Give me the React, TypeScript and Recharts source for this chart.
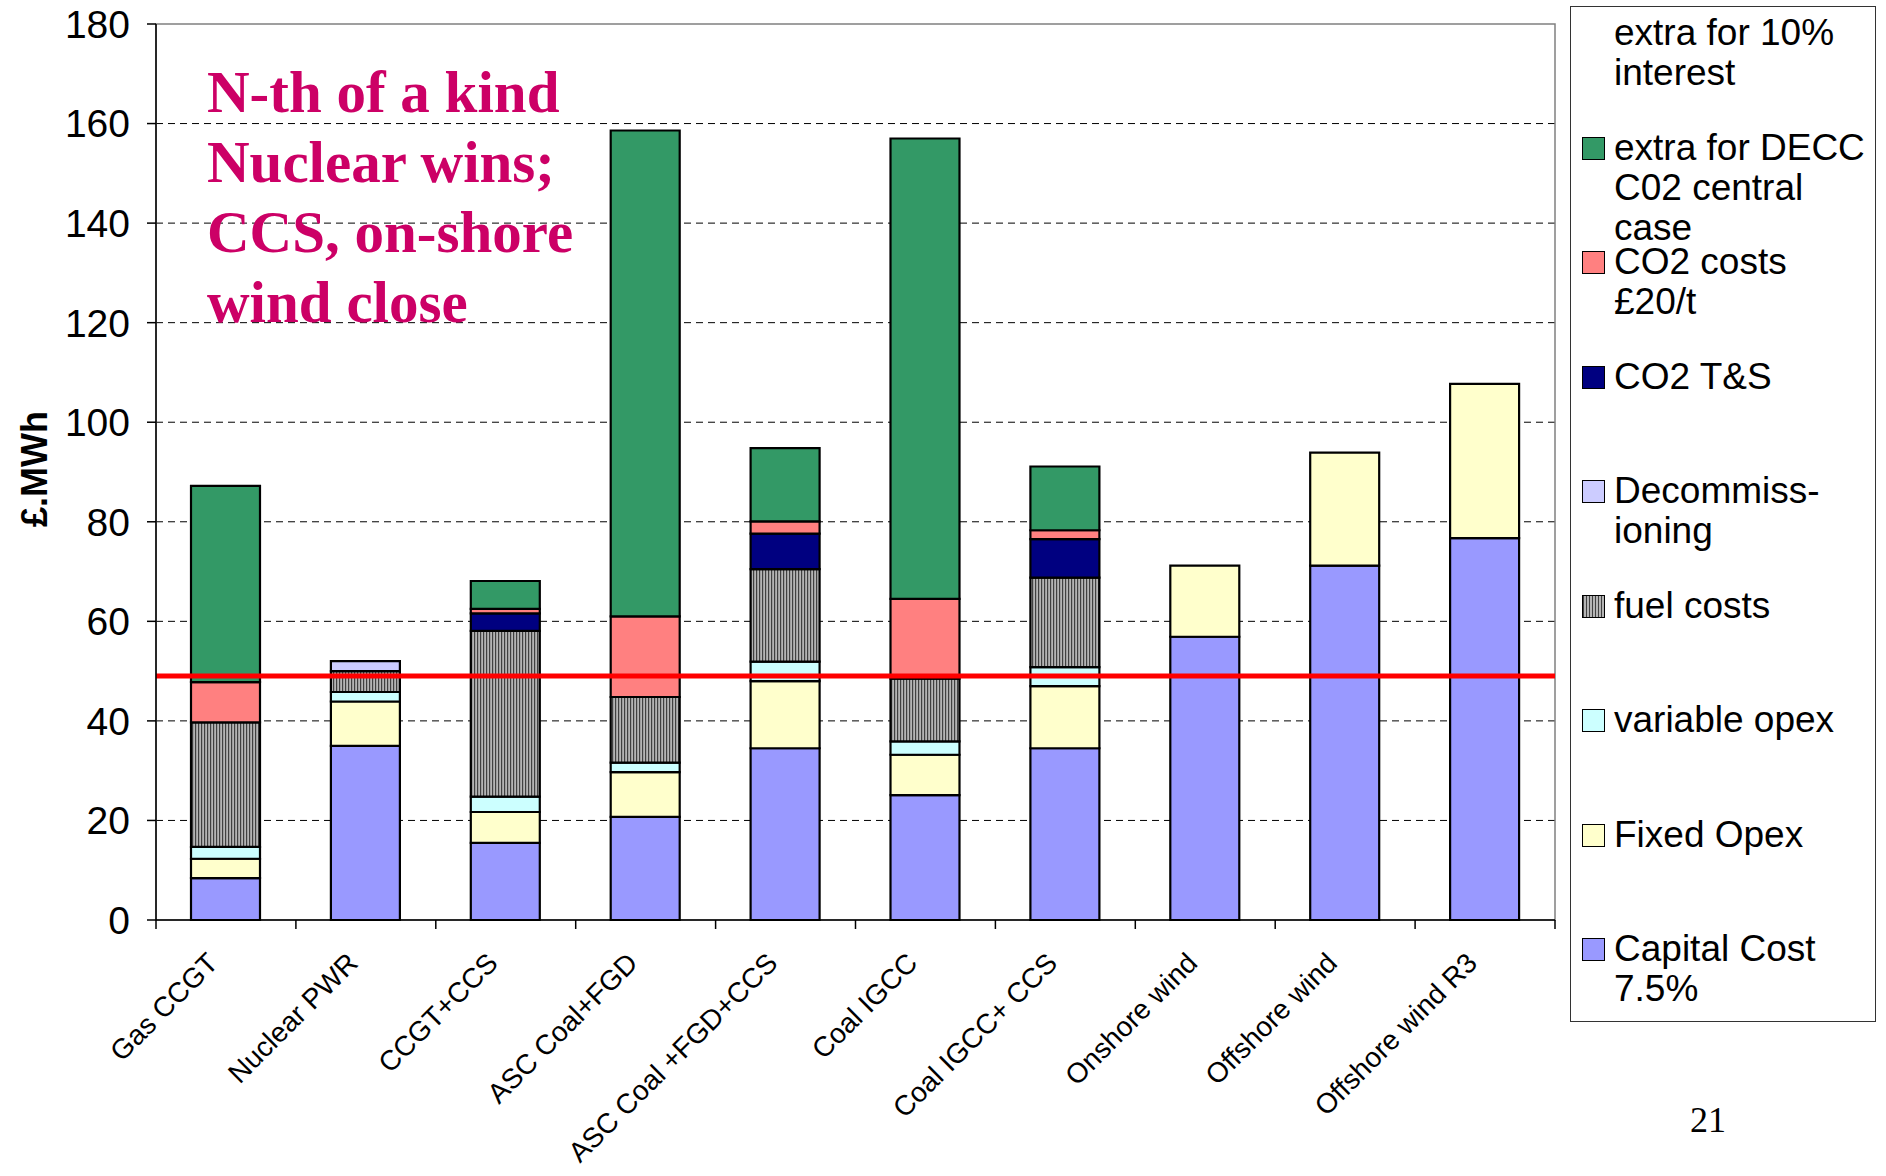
import React from 'react';
import {
  BarChart,
  Bar,
  XAxis,
  YAxis,
  CartesianGrid,
  ReferenceLine,
  ReferenceArea,
  Legend,
} from 'recharts';

// categories on the x axis
const categories = [
  'Gas CCGT',
  'Nuclear PWR',
  'CCGT+CCS',
  'ASC Coal+FGD',
  'ASC Coal +FGD+CCS',
  'Coal IGCC',
  'Coal IGCC+ CCS',
  'Onshore wind',
  'Offshore wind',
  'Offshore wind R3',
];

// stacked cost components, £/MWh (bottom of stack first)
const capitalCost = [8.4, 35.0, 15.5, 20.7, 34.5, 25.1, 34.5, 56.9, 71.2, 76.7];
const fixedOpex = [3.9, 8.9, 6.2, 9.0, 13.5, 8.1, 12.5, 14.3, 22.7, 31.0];
const variableOpex = [2.4, 1.9, 3.1, 1.9, 3.9, 2.7, 3.8, 0, 0, 0];
const fuelCosts = [25.0, 4.2, 33.3, 13.2, 18.6, 12.6, 18.0, 0, 0, 0];
const decommissioning = [0, 2.0, 0, 0, 0, 0, 0, 0, 0, 0];
const co2TransportStorage = [0, 0, 3.5, 0, 7.1, 0, 7.7, 0, 0, 0];
const co2Costs = [8.1, 0, 0.9, 16.2, 2.5, 16.0, 1.8, 0, 0, 0];
const deccExtra = [39.4, 0, 5.6, 97.6, 14.7, 92.5, 12.8, 0, 0, 0];
const interestExtra = [0, 0, 0, 0, 0, 0, 0, 0, 0, 0];

const yTicks = [0, 20, 40, 60, 80, 100, 120, 140, 160, 180];
const thresholdLine = 49;

const annotationLines = ['N-th of a kind', 'Nuclear wins;', 'CCS, on-shore', 'wind close'];
const pageNumber = '21';

const series = [
  { key: 'capital', name: 'Capital Cost 7.5%', values: capitalCost, fill: '#9999FF' },
  { key: 'fixed', name: 'Fixed Opex', values: fixedOpex, fill: '#FFFFCC' },
  { key: 'variable', name: 'variable opex', values: variableOpex, fill: '#CCFFFF' },
  { key: 'fuel', name: 'fuel costs', values: fuelCosts, fill: 'url(#fuelHatch)' },
  { key: 'decom', name: 'Decommiss-ioning', values: decommissioning, fill: '#CCCCFF' },
  { key: 'ts', name: 'CO2 T&S', values: co2TransportStorage, fill: '#000080' },
  { key: 'co2', name: 'CO2 costs £20/t', values: co2Costs, fill: '#FF8080' },
  { key: 'decc', name: 'extra for DECC C02 central case', values: deccExtra, fill: '#339966' },
  { key: 'interest', name: 'extra for 10% interest', values: interestExtra, fill: 'none' },
];

const data = categories.map((name, i) => {
  const row: Record<string, string | number> = { name };
  series.forEach((s) => {
    row[s.key] = s.values[i];
  });
  return row;
});

const SANS = '"Liberation Sans", Arial, sans-serif';
const SERIF = '"Liberation Serif", "Times New Roman", serif';

const CategoryTick = (props: any) => {
  const { x, y, payload, index, visibleTicksCount } = props;
  const half = payload.offset || 0;
  const isLast = index === visibleTicksCount - 1;
  const lx = x - 13;
  const ly = y + 38;
  return (
    <g>
      <line x1={x - half} x2={x - half} y1={y} y2={y + 9} stroke="#000" strokeWidth={1.5} />
      {isLast && (
        <line x1={x + half} x2={x + half} y1={y} y2={y + 9} stroke="#000" strokeWidth={1.5} />
      )}
      <text
        x={lx}
        y={ly}
        transform={`rotate(-45 ${lx} ${ly})`}
        textAnchor="end"
        dominantBaseline="central"
        fontFamily={SANS}
        fontSize={28}
        fill="#000"
      >
        {payload.value}
      </text>
    </g>
  );
};

const swatchStyle = (fill: string): React.CSSProperties => {
  if (fill === 'none') return { border: 'none', background: 'transparent' };
  if (fill.startsWith('url'))
    return {
      border: '1.5px solid #000',
      background: 'repeating-linear-gradient(90deg, #404040 0px, #404040 1px, #b4b4b4 1px, #b4b4b4 3px)',
    };
  return { border: '1.5px solid #000', background: fill };
};

const LegendBox = () => {
  const items = [...series].reverse();
  return (
    <div
      style={{
        position: 'relative',
        width: 306,
        height: 1016,
        boxSizing: 'border-box',
        border: '1.5px solid #333',
        background: '#fff',
      }}
    >
      {items.map((s, i) => (
        <div key={s.key} style={{ position: 'absolute', left: 0, top: 6 + 114.5 * i, width: '100%' }}>
          <div
            style={{
              position: 'absolute',
              left: 11,
              top: 9,
              width: 23,
              height: 23,
              boxSizing: 'border-box',
              ...swatchStyle(s.fill),
            }}
          />
          <div
            style={{
              position: 'absolute',
              left: 43,
              top: 0,
              width: 258,
              fontFamily: SANS,
              fontSize: 37,
              lineHeight: '40px',
              color: '#000',
            }}
          >
            {s.name}
          </div>
        </div>
      ))}
    </div>
  );
};

export default function App() {
  const gridValues = yTicks.filter((t) => t > 0 && t < 180);
  return (
    <div style={{ position: 'absolute', left: 0, top: 0, width: 1886, height: 1176, background: '#fff' }}>
      <BarChart
        width={1886}
        height={1176}
        data={data}
        margin={{ top: 24, right: 25, left: 0, bottom: 56 }}
        barSize={69}
      >
        <defs>
          <pattern id="fuelHatch" width={3} height={4} patternUnits="userSpaceOnUse">
            <rect x={0} y={0} width={3} height={4} fill="#b4b4b4" />
            <rect x={0} y={0} width={1.2} height={4} fill="#404040" />
          </pattern>
        </defs>
        <ReferenceArea y1={0} y2={180} fill="none" stroke="#808080" strokeWidth={1.5} ifOverflow="visible" />
        <CartesianGrid
          vertical={false}
          stroke="#000"
          strokeDasharray="7 5"
          horizontalValues={gridValues}
        />
        <XAxis
          dataKey="name"
          interval={0}
          height={200}
          tickSize={0}
          tickMargin={0}
          tickLine={false}
          axisLine={{ stroke: '#000', strokeWidth: 1.5 }}
          tick={<CategoryTick />}
        />
        <YAxis
          domain={[0, 180]}
          ticks={yTicks}
          interval={0}
          width={156}
          tickSize={9}
          tickMargin={17}
          axisLine={{ stroke: '#000', strokeWidth: 1.5 }}
          tickLine={{ stroke: '#000', strokeWidth: 1.5 }}
          tick={{ fontFamily: SANS, fontSize: 39, fill: '#000' }}
          label={{
            content: (p: any) => {
              const vb = p.viewBox || { x: 0, y: 24, height: 896 };
              const cx = vb.x + 34;
              const cy = vb.y + vb.height / 2 - 3;
              return (
                <text
                  x={cx}
                  y={cy}
                  transform={`rotate(-90 ${cx} ${cy})`}
                  textAnchor="middle"
                  dominantBaseline="central"
                  fontFamily={SANS}
                  fontWeight="bold"
                  fontSize={36}
                  fill="#000"
                >
                  £.MWh
                </text>
              );
            },
          }}
        />
        <Legend
          layout="vertical"
          align="right"
          verticalAlign="top"
          wrapperStyle={{ width: 306, right: 10, top: 6 }}
          content={() => <LegendBox />}
        />
        {series.map((s) => (
          <Bar
            key={s.key}
            dataKey={s.key}
            name={s.name}
            stackId="cost"
            fill={s.fill}
            stroke={s.fill === 'none' ? 'none' : '#000'}
            strokeWidth={2.2}
            isAnimationActive={false}
          />
        ))}
        <ReferenceLine y={thresholdLine} stroke="#FF0000" strokeWidth={5} />
      </BarChart>

      <div
        style={{
          position: 'absolute',
          left: 207,
          top: 57,
          fontFamily: SERIF,
          fontWeight: 'bold',
          fontSize: 59,
          lineHeight: '70px',
          color: '#CC0066',
          whiteSpace: 'nowrap',
        }}
      >
        {annotationLines.map((line) => (
          <div key={line}>{line}</div>
        ))}
      </div>

      <div
        style={{
          position: 'absolute',
          left: 1690,
          top: 1102,
          fontFamily: SERIF,
          fontSize: 36,
          lineHeight: '36px',
          color: '#000',
        }}
      >
        {pageNumber}
      </div>
    </div>
  );
}
